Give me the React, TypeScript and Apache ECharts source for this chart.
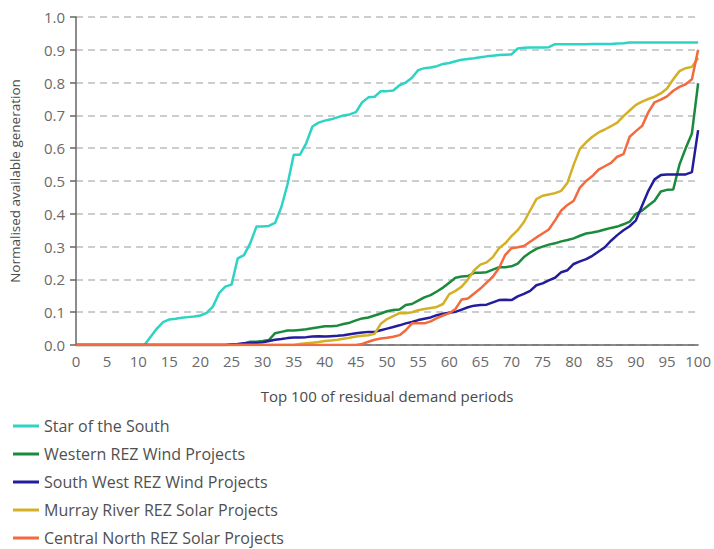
import React, { useEffect, useRef } from "react";
import * as echarts from "echarts";

const seriesNames = [
  "Star of the South",
  "Western REZ Wind Projects",
  "South West REZ Wind Projects",
  "Murray River REZ Solar Projects",
  "Central North REZ Solar Projects",
];

const seriesColors = ["#2fd3c3", "#1b8a3c", "#231d9c", "#d4b026", "#f26a3d"];

const zeros = (n: number) => Array(n).fill(0);

// periods 0..100
const starOfTheSouth = [
  ...zeros(12),
  0.025, 0.05, 0.07, 0.078, 0.08, 0.083, 0.085, 0.087, 0.09,
  0.098, 0.117, 0.158, 0.178, 0.184, 0.264, 0.274, 0.31, 0.361, 0.361,
  0.363, 0.372, 0.42, 0.49, 0.58, 0.58, 0.615, 0.666, 0.678, 0.684,
  0.688, 0.694, 0.7, 0.703, 0.71, 0.74, 0.755, 0.757, 0.774, 0.774,
  0.776, 0.792, 0.8, 0.815, 0.838, 0.844, 0.846, 0.85, 0.857, 0.86,
  0.865, 0.87, 0.872, 0.874, 0.877, 0.88, 0.882, 0.884, 0.885, 0.886,
  0.904, 0.906, 0.907, 0.907, 0.907, 0.908, 0.917, 0.917, 0.917, 0.917,
  0.917, 0.917, 0.918, 0.918, 0.918, 0.918, 0.919, 0.92, 0.922, 0.922,
  0.922, 0.922, 0.922, 0.922, 0.922, 0.922, 0.922, 0.922, 0.922, 0.922,
];

const westernWind = [
  ...zeros(27),
  0.005, 0.01, 0.01, 0.012,
  0.015, 0.036, 0.04, 0.044, 0.044, 0.046, 0.048, 0.051, 0.054, 0.057,
  0.057, 0.059, 0.064, 0.068, 0.075, 0.081, 0.084, 0.09, 0.096, 0.103,
  0.107, 0.108, 0.122, 0.125, 0.135, 0.145, 0.152, 0.163, 0.175, 0.19,
  0.205, 0.209, 0.21, 0.22, 0.22, 0.222, 0.23, 0.237, 0.237, 0.24,
  0.248, 0.268, 0.282, 0.293, 0.3, 0.306, 0.31, 0.316, 0.32, 0.325,
  0.333, 0.34, 0.343, 0.347, 0.352, 0.357, 0.361, 0.368, 0.376, 0.4,
  0.41, 0.425, 0.44, 0.468, 0.473, 0.474, 0.55, 0.6, 0.645, 0.798,
];

const southWestWind = [
  ...zeros(25),
  0.002, 0.003, 0.005, 0.006, 0.007, 0.008,
  0.012, 0.016, 0.018, 0.021, 0.023, 0.023, 0.024, 0.026, 0.027, 0.026,
  0.027, 0.028, 0.03, 0.033, 0.036, 0.038, 0.04, 0.04, 0.045, 0.05,
  0.055, 0.06, 0.066, 0.07, 0.076, 0.08, 0.084, 0.091, 0.095, 0.098,
  0.101, 0.108, 0.115, 0.12, 0.122, 0.123, 0.13, 0.137, 0.138, 0.137,
  0.148, 0.156, 0.165, 0.182, 0.188, 0.197, 0.205, 0.222, 0.228, 0.247,
  0.255, 0.262, 0.272, 0.285, 0.298, 0.318, 0.335, 0.35, 0.362, 0.38,
  0.425, 0.47, 0.505, 0.518, 0.52, 0.52, 0.52, 0.52, 0.527, 0.655,
];

const murraySolar = [
  ...zeros(36),
  0.003, 0.005, 0.007, 0.009, 0.012,
  0.014, 0.016, 0.019, 0.022, 0.026, 0.028, 0.03, 0.034, 0.065, 0.079,
  0.088, 0.097, 0.097, 0.1, 0.106, 0.11, 0.113, 0.116, 0.125, 0.155,
  0.165, 0.178, 0.2, 0.228, 0.245, 0.252, 0.268, 0.295, 0.31, 0.332,
  0.35, 0.375, 0.41, 0.445, 0.455, 0.459, 0.463, 0.47, 0.495, 0.55,
  0.598, 0.618, 0.635, 0.648, 0.657, 0.667, 0.678, 0.698, 0.715, 0.732,
  0.742, 0.75, 0.757, 0.767, 0.782, 0.81, 0.835, 0.844, 0.848, 0.875,
];

const centralNorthSolar = [
  ...zeros(46),
  0.003, 0.01, 0.016, 0.02, 0.022,
  0.025, 0.03, 0.045, 0.066, 0.066, 0.066, 0.072, 0.082, 0.09, 0.097,
  0.11, 0.139, 0.142, 0.157, 0.172, 0.19, 0.208, 0.235, 0.275, 0.295,
  0.298, 0.302, 0.315, 0.328, 0.34, 0.352, 0.38, 0.41, 0.427, 0.44,
  0.48, 0.5, 0.515, 0.535, 0.545, 0.555, 0.574, 0.582, 0.635, 0.652,
  0.668, 0.71, 0.74, 0.748, 0.758, 0.775, 0.787, 0.795, 0.81, 0.9,
];

const allSeries = [starOfTheSouth, westernWind, southWestWind, murraySolar, centralNorthSolar];

const xAxisTitle = "Top 100 of residual demand periods";
const yAxisTitle = "Normalised available generation";

const FONT = "'Open Sans', 'Noto Sans', sans-serif";

export default function App() {
  const ref = useRef<HTMLDivElement>(null);
  useEffect(() => {
    if (!ref.current) return;
    const chart = echarts.init(ref.current, null, { renderer: "svg" });
    chart.setOption({
      animation: false,
      backgroundColor: "#ffffff",
      grid: { left: 75, right: 13, top: 17, bottom: 204, containLabel: false },
      xAxis: {
        type: "value",
        min: 0,
        max: 100,
        interval: 5,
        name: xAxisTitle,
        nameLocation: "middle",
        nameGap: 43,
        nameTextStyle: { color: "#4a4a4a", fontSize: 15, fontFamily: FONT },
        axisLine: { show: true, lineStyle: { color: "#666666", width: 1.5 } },
        axisTick: { show: false },
        splitLine: { show: false },
        axisLabel: { color: "#6a6a6a", fontSize: 15, fontFamily: FONT, margin: 8 },
      },
      yAxis: {
        type: "value",
        min: 0,
        max: 1,
        interval: 0.1,
        name: yAxisTitle,
        nameLocation: "middle",
        nameGap: 54,
        nameTextStyle: { color: "#4a4a4a", fontSize: 13.5, fontFamily: FONT },
        axisLine: { show: true, lineStyle: { color: "#666666", width: 1.5 } },
        axisTick: { show: true, length: 6, lineStyle: { color: "#666666", width: 1.5 } },
        splitLine: { show: true, lineStyle: { color: "#bdbdbd", width: 1.5, type: [7, 5] } },
        axisLabel: {
          color: "#6a6a6a",
          fontSize: 15,
          fontFamily: FONT,
          margin: 11,
          formatter: (v: number) => v.toFixed(1),
        },
      },
      legend: {
        orient: "vertical",
        left: 13,
        top: 417,
        height: 135,
        padding: 0,
        icon: "rect",
        itemWidth: 26,
        itemHeight: 3,
        itemGap: 10,
        textStyle: { color: "#505050", fontSize: 16, fontFamily: FONT, lineHeight: 18 },
        data: seriesNames,
      },
      series: seriesNames.map((name, i) => ({
        name,
        type: "line",
        data: allSeries[i].map((v, x) => [x, v]),
        showSymbol: false,
        symbol: "none",
        color: seriesColors[i],
        lineStyle: { color: seriesColors[i], width: 2.5 },
        z: i === 4 ? 5 : 3,
      })),
    });
    return () => chart.dispose();
  }, []);
  return <div ref={ref} style={{ width: 714, height: 549, position: "absolute", left: 0, top: 0 }} />;
}
